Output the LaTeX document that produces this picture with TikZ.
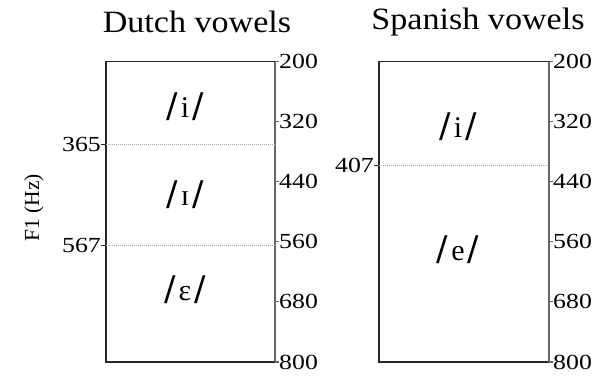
\documentclass[tikz,border=0pt]{standalone}
\usepackage{graphicx}
\usepackage{fontspec}
\setmainfont{Liberation Serif}
\newfontfamily\slashfont{DejaVu Sans}
\begin{document}
\begin{tikzpicture}[x=1pt,y=-1pt]
\useasboundingbox (0,0) rectangle (593,375);
\tikzset{
 boxline/.style={line width=1.1pt, draw=black!85},
 axisline/.style={line width=1.1pt, draw=black!60},
 gridline/.style={line width=0.7pt, draw=black!35, dash pattern=on 0.8pt off 1.2pt},
 ticklab/.style={inner sep=0pt, font=\fontsize{21.5}{21.5}\selectfont},
 titlelab/.style={inner sep=0pt, font=\fontsize{31}{31}\selectfont},
 vowel/.style={inner sep=0pt, font=\fontsize{30}{30}\selectfont},
}
\newcommand{\vslash}{{\fontsize{34}{34}\slashfont/}}
\newcommand{\vw}[1]{\vslash\hspace{3pt}#1\hspace{3pt}\vslash}
\newcommand{\wide}[1]{\scalebox{1.1}[1]{#1}}
\newcommand{\widenum}[1]{\scalebox{1.2}[1]{#1}}
% titles
\node[titlelab] (t1) at (197,22) {\wide{Dutch vowels}};
\node[titlelab] (t2) at (478,22) {\wide{Spanish vowels}};
% axis label
\node[ticklab, rotate=90] (ylab) at (34,208) {F1 (Hz)};
% Dutch box
\coordinate (dtl) at (106,61.5);
\coordinate (dtr) at (275,61.5);
\coordinate (dbl) at (106,362);
\coordinate (dbr) at (275,362);
\draw[boxline] (dtr) -- (dtl) -- (dbl) -- (dbr);
\draw[axisline] (dtr) -- (dbr);
% Spanish box
\coordinate (stl) at (379,61.5);
\coordinate (str) at (549,61.5);
\coordinate (sbl) at (379,362);
\coordinate (sbr) at (549,362);
\draw[boxline] (str) -- (stl) -- (sbl) -- (sbr);
\draw[axisline] (str) -- (sbr);
% right ticks
\foreach \v/\y in {200/61.5,320/121.6,440/181.7,560/241.8,680/301.9,800/362}{
  \coordinate (da\v) at (275,\y);
  \coordinate (dt\v) at (279,\y);
  \draw[axisline] (da\v) -- (dt\v);
  \node[ticklab, anchor=west] (dl\v) at (dt\v) {\widenum{\v}};
  \coordinate (sa\v) at (549,\y);
  \coordinate (st\v) at (553,\y);
  \draw[axisline] (sa\v) -- (st\v);
  \node[ticklab, anchor=west] (sl\v) at (st\v) {\widenum{\v}};
}
% left ticks and boundaries
\foreach \v/\y in {365/144.1,567/245.3}{
  \coordinate (db\v) at (106,\y);
  \coordinate (dk\v) at (101,\y);
  \coordinate (de\v) at (275,\y);
  \draw[boxline] (db\v) -- (dk\v);
  \node[ticklab, anchor=east] (dn\v) at (dk\v) {\widenum{\v}};
  \draw[gridline] (db\v) -- (de\v);
}
\coordinate (sb407) at (379,165.2);
\coordinate (sk407) at (374,165.2);
\coordinate (se407) at (549,165.2);
\draw[boxline] (sb407) -- (sk407);
\node[ticklab, anchor=east] (sn407) at (sk407) {\widenum{407}};
\draw[gridline] (sb407) -- (se407);
% vowels
\node[vowel] (vi) at (185,107) {\vw{i}};
\node[vowel] (vI) at (185,195) {\vw{ɪ}};
\node[vowel] (vE) at (185,290) {\vw{ɛ}};
\node[vowel] (si) at (458,127) {\vw{i}};
\node[vowel] (se) at (458,250) {\vw{e}};
\end{tikzpicture}
\end{document}
